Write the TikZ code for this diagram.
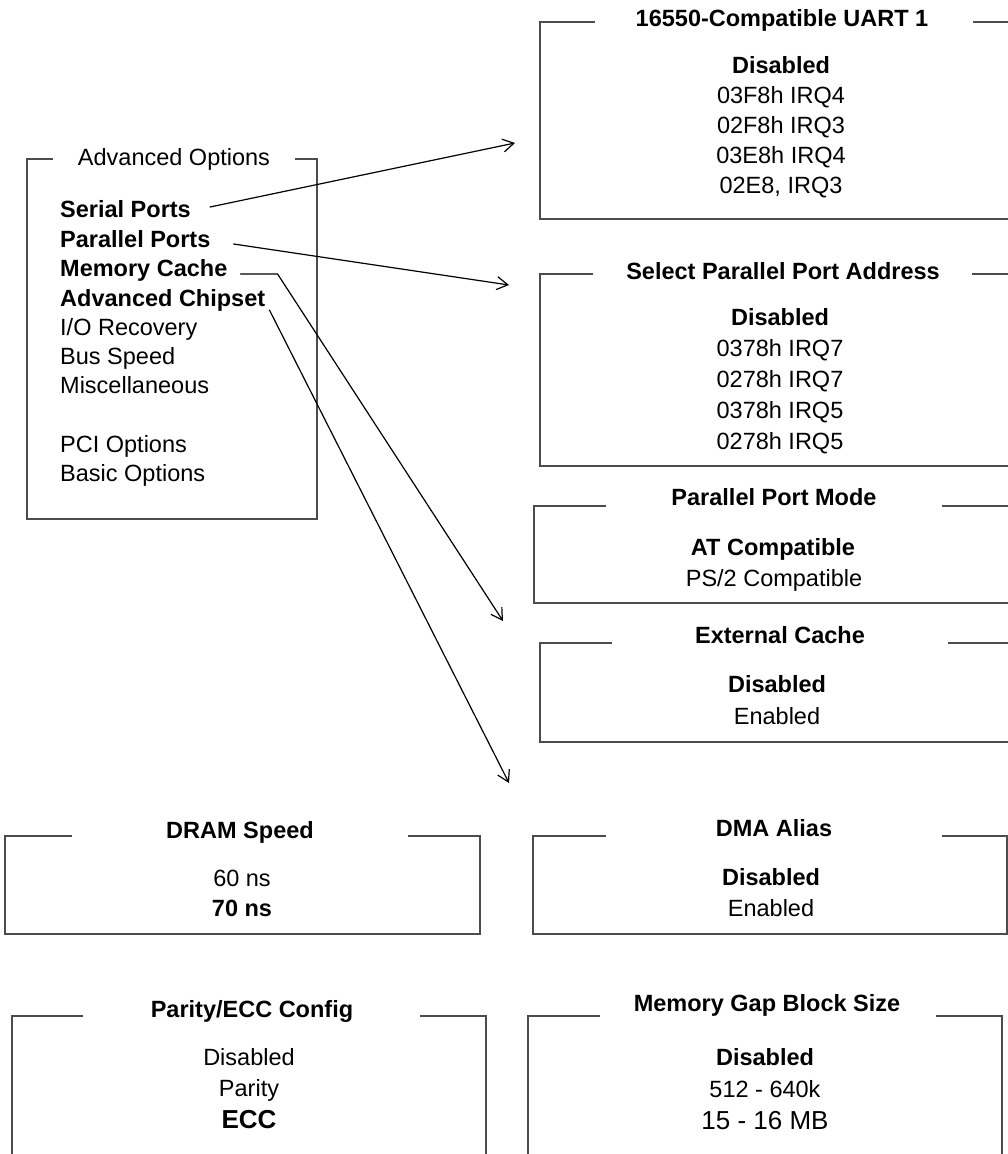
\documentclass[tikz,border=0pt]{standalone}
\usepackage{fontspec}
\setmainfont{Liberation Sans}
\usetikzlibrary{arrows.meta}
\begin{document}
\begin{tikzpicture}[x=1pt,y=-1pt,
  frame/.style={line width=1.8pt, draw=black!70, line join=miter},
  lbl/.style={inner sep=0pt, anchor=base, font=\fontsize{23.5}{28}\selectfont},
  big/.style={inner sep=0pt, anchor=base, font=\fontsize{26}{30}\selectfont},
  ttl/.style={lbl, font=\fontsize{23.5}{28}\selectfont\bfseries},
  item/.style={lbl, anchor=base west},
  link/.style={line width=1.2pt, line cap=round, -{Straight Barb[length=11pt,width=13pt,line width=1.2pt]}}]
\useasboundingbox (0,0) rectangle (1008,1154);
\clip (0,0) rectangle (1008,1154);

% ---- Advanced Options menu ----
\draw[frame] (53,159) -- (27,159) -- (27,519) -- (317,519) -- (317,159) -- (295,159);
\node[lbl] (advttl) at (174,165) {Advanced Options};
\node[item] (sp)  at (60,217) {\bfseries Serial Ports};
\node[item] (pp)  at (60,247) {\bfseries Parallel Ports};
\node[item] (mc)  at (60,276) {\bfseries Memory Cache};
\node[item] (ac)  at (60,306) {\bfseries Advanced Chipset};
\node[item] (io)  at (60,335) {I/O Recovery};
\node[item] (bus) at (60,364) {Bus Speed};
\node[item] (misc) at (60,393) {Miscellaneous};
\node[item] (pci) at (60,452) {PCI Options};
\node[item] (bas) at (60,481) {Basic Options};

% ---- 16550-Compatible UART 1 ----
\draw[frame] (595,22) -- (540,22) -- (540,219) -- (1015,219);
\draw[frame] (973,22) -- (1015,22);
\node[ttl] (uart) at (782,26) {16550-Compatible UART 1};
\foreach \txt [count=\i] in {\textbf{Disabled}, 03F8h IRQ4, 02F8h IRQ3, 03E8h IRQ4, {02E8, IRQ3}}
  \node[lbl] (uart-\i) at (781,43+30*\i) {\txt};

% ---- Select Parallel Port Address ----
\draw[frame] (593,274) -- (540,274) -- (540,466) -- (1015,466);
\draw[frame] (972,274) -- (1015,274);
\node[ttl] (ppa) at (783,279) {Select Parallel Port Address};
\foreach \txt [count=\i] in {\textbf{Disabled}, 0378h IRQ7, 0278h IRQ7, 0378h IRQ5, 0278h IRQ5}
  \node[lbl] (ppa-\i) at (780,294+31*\i) {\txt};

% ---- Parallel Port Mode ----
\draw[frame] (606,506) -- (534,506) -- (534,603) -- (1015,603);
\draw[frame] (942,506) -- (1015,506);
\node[ttl] (ppm) at (774,505) {Parallel Port Mode};
\node[lbl] (ppm-1) at (773,555) {\bfseries AT Compatible};
\node[lbl] (ppm-2) at (774,586) {PS/2 Compatible};

% ---- External Cache ----
\draw[frame] (612,643) -- (540,643) -- (540,742) -- (1015,742);
\draw[frame] (948,643) -- (1015,643);
\node[ttl] (ext) at (780,643) {External Cache};
\node[lbl] (ext-1) at (777,692) {\bfseries Disabled};
\node[lbl] (ext-2) at (777,724) {Enabled};

% ---- DRAM Speed ----
\draw[frame] (72,836) -- (5,836) -- (5,934) -- (480,934) -- (480,836) -- (408,836);
\node[ttl] (dram) at (240,838) {DRAM Speed};
\node[lbl] (dram-1) at (242,886) {60 ns};
\node[lbl] (dram-2) at (242,916) {\bfseries 70 ns};

% ---- DMA Alias ----
\draw[frame] (606,836) -- (533,836) -- (533,934) -- (1007,934) -- (1007,836) -- (942,836);
\node[ttl] (dma) at (774,836) {DMA Alias};
\node[lbl] (dma-1) at (771,885) {\bfseries Disabled};
\node[lbl] (dma-2) at (771,916) {Enabled};

% ---- Parity/ECC Config ----
\draw[frame] (83,1016) -- (12,1016) -- (12,1170);
\draw[frame] (420,1016) -- (486,1016) -- (486,1170);
\node[ttl] (par) at (252,1017) {Parity/ECC Config};
\node[lbl] (par-1) at (249,1065) {Disabled};
\node[lbl] (par-2) at (249,1096) {Parity};
\node[big] (par-3) at (249,1128) {\bfseries ECC};

% ---- Memory Gap Block Size ----
\draw[frame] (600,1016) -- (528,1016) -- (528,1170);
\draw[frame] (936,1016) -- (1002,1016) -- (1002,1170);
\node[ttl] (gap) at (767,1011) {Memory Gap Block Size};
\node[lbl] (gap-1) at (765,1065) {\bfseries Disabled};
\node[lbl] (gap-2) at (765,1097) {512 - 640k};
\node[big] (gap-3) at (765,1129) {15 - 16 MB};

% ---- connectors from the menu entries ----
\coordinate (t1) at (515,143);
\coordinate (t2) at (509,285);
\coordinate (t3) at (503,621);
\coordinate (t4) at (509,783);
\draw[link] ([shift={(19,-10)}]sp.base east) -- (t1);
\draw[link] ([shift={(23,-3)}]pp.base east) -- (t2);
\draw[link] ([shift={(13,-2)}]mc.base east) -- ++(37,0) -- (t3);
\draw[link] ([shift={(4,4)}]ac.base east) -- (t4);
\end{tikzpicture}
\end{document}
